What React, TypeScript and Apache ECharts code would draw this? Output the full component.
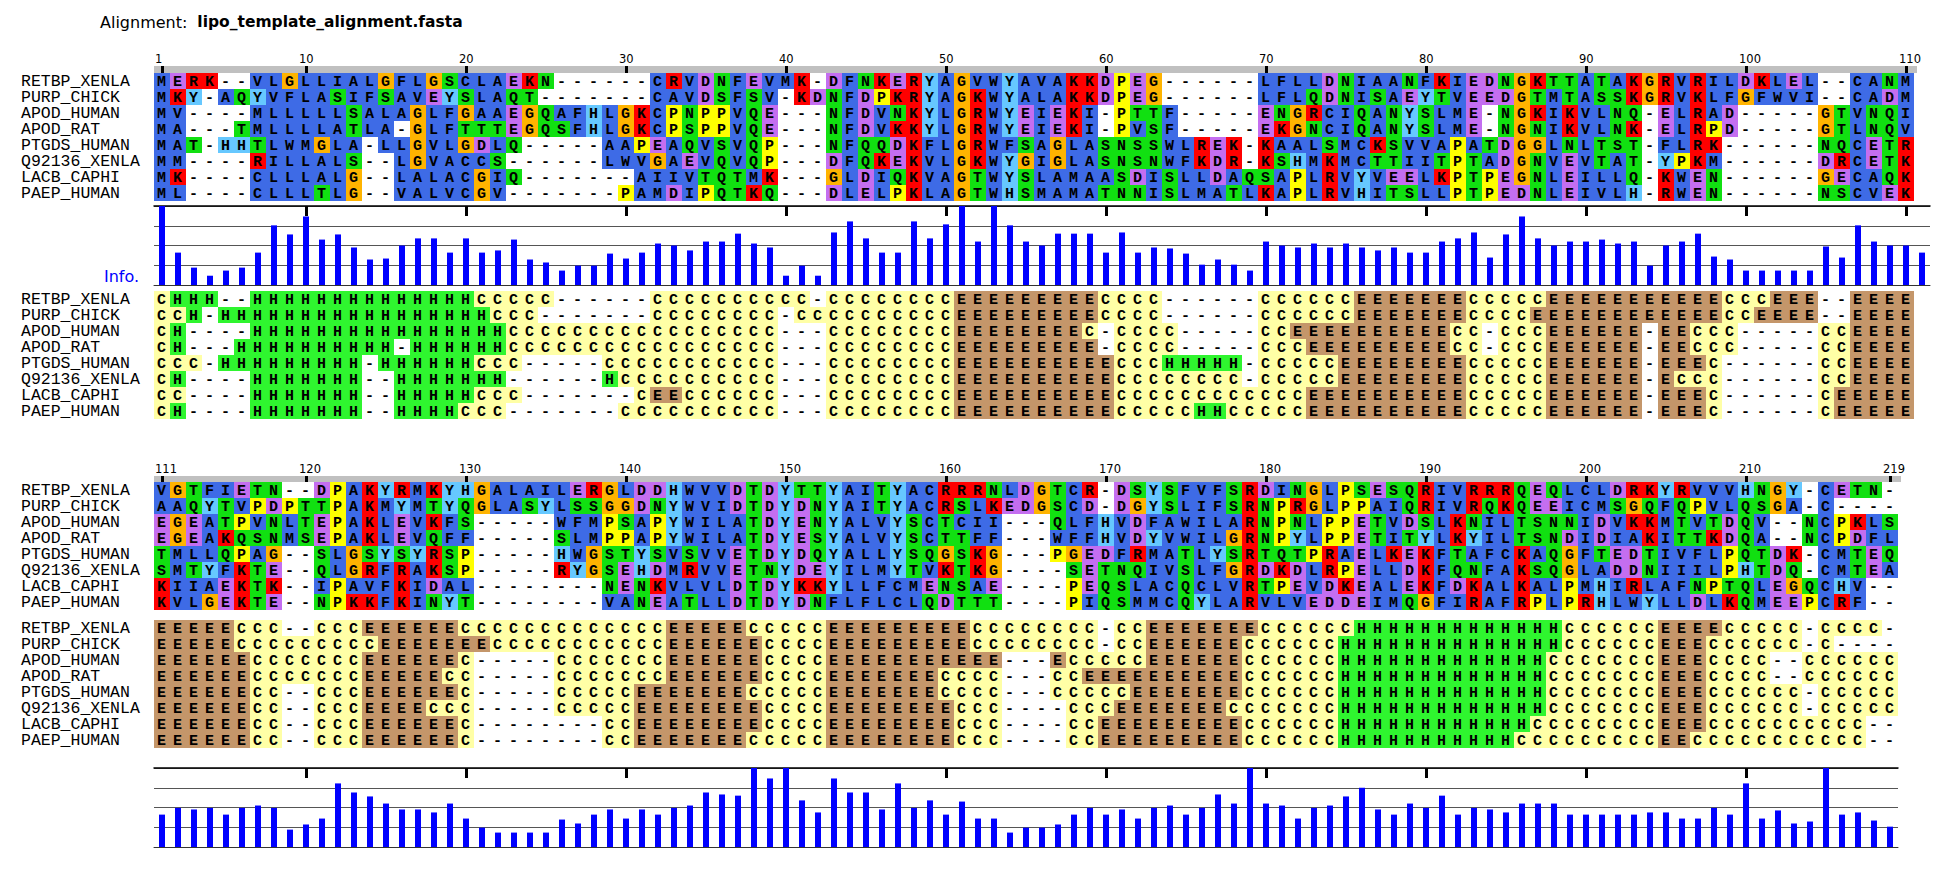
import React, { useEffect, useRef } from "react";
import * as echarts from "echarts";

// ---------------- data ----------------
const TITLE_LABEL = "Alignment:";
const FILE_NAME = "lipo_template_alignment.fasta";

const NAMES = [
  "RETBP_XENLA",
  "PURP_CHICK",
  "APOD_HUMAN",
  "APOD_RAT",
  "PTGDS_HUMAN",
  "Q92136_XENLA",
  "LACB_CAPHI",
  "PAEP_HUMAN",
];

// alignment columns 1..110
const SEQ_BLOCK1 = [
  "MERK--VLGLLIALGFLGSCLAEKN------CRVDNFEVMK-DFNKERYAGVWYAVAKKDPEG------LFLLDNIAANFKIEDNGKTTATAKGRVRILDKLEL--CANM",
  "MKY-AQYVFLASIFSAVEYSLAQT-------CAVDSFSV-KDNFDPKRYAGKWYALAKKDPEG------LFLQDNISAEYTVEEDGTMTASSKGRVKLFGFWVI--CADM",
  "MV----MLLLLLSALAGLFGAAEGQAFHLGKCPNPPVQE---NFDVNKYLGRWYEIEKI-PTTF-----ENGRCIQANYSLME-NGKIKVLNQ-ELRAD-----GTVNQI",
  "MA---TMLLLLATLA-GLFTTTEGQSFHLGKCPSPPVQE---NFDVKKYLGRWYEIEKI-PVSF-----EKGNCIQANYSLME-NGNIKVLNK-ELRPD-----GTLNQV",
  "MAT-HHTLWMGLA-LLGVLGDLQ-----AAPEAQVSVQP---NFQQDKFLGRWFSAGLASNSSWLREK-KAALSMCKSVVAPATDGGLNLTST-FLRK------NQCETR",
  "MM----RILLALS--LGVACCS------LWVGAEVQVQP---DFQKEKVLGKWYGIGLASNSNWFKDR-KSHMKMCTTIITPTADGNVEVTAT-YPKM------DRCETK",
  "MK----CLLLALG--LALACGIQ-------AIIVTQTMK---GLDIQKVAGTWYSLAMAASDISLLDAQSAPLRVYVEELKPTPEGNLEILLQ-KWEN------GECAQK",
  "ML----CLLLTLG--VALVCGV-------PAMDIPQTKQ---DLELPKLAGTWHSMAMATNNISLMATLKAPLRVHITSLLPTPEDNLEIVLH-RWEN------NSCVEK",
];

// alignment columns 111..219
const SEQ_BLOCK2 = [
  "VGTFIETN--DPAKYRMKYHGALAILERGLDDHWVVDTDYTTYAITYACRRRNLDGTCR-DSYSFVFSRDINGLPSESQRIVRRRQEQLCLDRKYRVVVHNGY-CETN-",
  "AAQYTVPDPTTPAKMYMTYQGLASYLSSGGDNYWVIDTDYDNYAITYACRSLKEDGSCD-DGYSLIFSRNPRGLPPAIQRIVRQKQEEICMSGQFQPVLQSGA-C----",
  "EGEATPVNLTEPAKLEVKFS-----WFMPSAPYWILATDYENYALVYSCTCII---QLFHVDFAWILARNPNLPPETVDSLKNILTSNNIDVKKMTVTDQV--NCPKLS",
  "EGEAKQSNMSEPAKLEVQFF-----SLMPPAPYWILATDYESYALVYSCTTFF---WFFHVDYVWILGRNPYLPPETITYLKYILTSNDIDIAKITTKDQA--NCPDFL",
  "TMLLQPAG--SLGSYSYRSP-----HWGSTYSVSVVETDYDQYALLYSQGSKG---PGEDFRMATLYSRTQTPRAELKEKFTAFCKAQGFTEDTIVFLPQTDK-CMTEQ",
  "SMTYFKTE--QLGRFRAKSP-----RYGSEHDMRVVETNYDEYILMYTVKTKG----SETNQIVSLFGRDKDLRPELLDKFQNFAKSQGLADDNIIILPHTDQ-CMTEA",
  "KIIAEKTK--IPAVFKIDAL--------NENKVLVLDTDYKKYLLFCMENSAE----PEQSLACQCLVRTPEVDKEALEKFDKALKALPMHIRLAFNPTQLEGQCHV--",
  "KVLGEKTE--NPKKFKINYT--------VANEATLLDTDYDNFLFLCLQDTTT----PIQSMMCQYLARVLVEDDEIMQGFIRAFRPLPRHLWYLLDLKQMEEPCRF--",
];

// secondary structure, run-length coded (state + run length)
const SS_BLOCK1 = [
  "C1 H3 -2 H14 C5 -6 C10 -1 C8 E9 C4 -6 C6 E7 C5 E11 C3 E3 -2 E4",
  "C2 H1 -1 H17 C3 -7 C8 -1 C10 E9 C4 -6 C6 E7 C4 E12 C2 E4 -2 E4",
  "C1 H1 -4 H16 C17 -3 C8 E8 C1 -1 C4 -5 C2 E10 C2 -1 C3 E6 -1 E2 C3 -5 C2 E4",
  "C1 H1 -3 H10 -1 H6 C17 -3 C8 E9 -1 C4 -5 C3 E9 C2 -1 C3 E6 -1 E2 C3 -5 C2 E4",
  "C3 -1 H9 -1 H6 C3 -5 C11 -3 C8 E10 C3 H5 -1 C5 E8 C5 E6 -1 E3 C1 -6 C2 E4",
  "C1 H1 -4 H7 -2 H7 -6 H1 C10 -3 C8 E10 C8 -1 C5 E8 C5 E6 -1 E1 C3 -6 C2 E4",
  "C2 -4 H7 -2 H5 C3 -7 C1 E2 C6 -3 C8 E10 C12 E10 C5 E6 -1 E3 C1 -6 C1 E5",
  "C1 H1 -4 H7 -2 H4 C3 -7 C10 -3 C8 E10 C5 H2 C5 E10 C5 E6 -1 E3 C1 -6 C1 E5",
];

const SS_BLOCK2 = [
  "E5 C3 -2 C3 E6 C13 E5 C5 E9 C8 -1 C2 E7 C6 H13 C6 E4 C5 -1 C4 -1",
  "E5 C9 E7 C11 E6 C4 E9 C8 -1 C2 E6 C6 H14 C6 E3 C6 -1 C1 -4",
  "E6 C7 E6 C1 -5 C7 E6 C4 E11 -3 E1 C5 E6 C6 H13 C7 E3 C4 -2 C6",
  "E6 C7 E5 C2 -5 C7 E6 C4 E7 C4 -3 C2 E10 C6 H13 C7 E3 C4 -2 C6",
  "E6 C2 -2 C3 E6 C1 -5 C5 E7 C5 E7 C4 -3 C5 E7 C6 H13 C7 E3 C6 -1 C5",
  "E6 C2 -2 C3 E4 C3 -5 C5 E8 C4 E8 C3 -4 C3 E7 C7 H13 C7 E3 C6 -1 C5",
  "E6 C2 -2 C3 E6 C1 -8 C2 E8 C4 E8 C3 -4 C2 E9 C6 H12 C8 E3 C10 -2",
  "E6 C2 -2 C3 E6 C1 -8 C2 E7 C5 E8 C3 -4 C2 E9 C6 H11 C9 E2 C11 -2",
];

// information content per column (bits), columns 1..219
const INFO_BITS = [
  4.0, 1.64, 0.88, 0.47, 0.73, 0.88, 1.64, 3.02, 2.56, 3.47,
  2.3, 2.56, 1.9, 1.29, 1.34, 2.0, 2.36, 2.36, 1.64, 2.36,
  1.64, 1.75, 2.3, 1.29, 1.14, 0.73, 0.98, 0.98, 1.59, 1.34,
  1.64, 2.1, 2.0, 1.75, 2.2, 2.2, 2.6, 2.1, 1.9, 0.47,
  0.98, 0.47, 2.66, 3.22, 2.36, 1.64, 1.64, 3.22, 2.36, 3.07,
  4.0, 2.2, 4.0, 3.02, 2.2, 2.0, 2.6, 2.6, 2.6, 1.64,
  2.66, 1.64, 1.9, 1.85, 1.59, 1.03, 1.29, 1.03, 0.73, 2.2,
  2.0, 1.9, 2.1, 1.9, 2.1, 1.9, 1.75, 1.9, 1.64, 1.64,
  2.2, 2.36, 2.66, 1.39, 2.56, 3.47, 2.36, 2.0, 2.2, 2.2,
  2.3, 2.1, 2.2, 0.98, 2.0, 2.2, 2.6, 1.44, 1.29, 0.73,
  0.73, 0.73, 0.73, 0.73, 1.95, 1.39, 3.02, 2.2, 2.0, 2.0,
  1.64, 1.98, 1.9, 1.98, 1.64, 1.98, 2.1, 1.98, 0.88, 1.14,
  1.44, 3.22, 2.76, 2.56, 2.2, 1.9, 1.9, 1.75, 2.2, 1.44,
  0.98, 0.73, 0.73, 0.73, 0.73, 1.39, 1.19, 1.64, 1.9, 1.44,
  1.9, 1.64, 1.98, 2.1, 2.76, 2.66, 2.6, 4.0, 3.47, 4.0,
  2.36, 1.75, 3.47, 2.76, 2.76, 1.9, 3.22, 1.98, 2.36, 1.64,
  2.3, 1.44, 1.44, 0.73, 0.98, 0.98, 1.14, 1.64, 1.98, 1.64,
  1.9, 1.44, 1.98, 2.1, 1.64, 1.98, 2.66, 2.2, 4.0, 2.2,
  2.1, 1.44, 1.98, 2.1, 2.56, 3.0, 1.9, 1.64, 2.2, 1.98,
  2.6, 1.64, 1.98, 1.9, 1.75, 2.2, 2.2, 2.2, 1.64, 1.64,
  1.64, 1.64, 1.64, 1.75, 1.75, 1.44, 1.44, 1.98, 1.64, 3.22,
  1.44, 1.85, 1.19, 1.29, 4.0, 1.64, 1.75, 1.34, 1.03,
];

const RULER_TICKS_1 = [1, 10, 20, 30, 40, 50, 60, 70, 80, 90, 100, 110];
const RULER_TICKS_2 = [111, 120, 130, 140, 150, 160, 170, 180, 190, 200, 210, 219];
const INFO_MAX = 4;

// ---------------- styling ----------------
const RESIDUE_GROUP: Record<string, string> = {
  A: "hyd", I: "hyd", L: "hyd", M: "hyd", F: "hyd", W: "hyd", V: "hyd", C: "hyd",
  K: "pos", R: "pos",
  E: "neg", D: "neg",
  N: "pol", Q: "pol", S: "pol", T: "pol",
  G: "gly", P: "pro",
  H: "aro", Y: "aro",
};
const GROUP_COLOR: Record<string, string> = {
  hyd: "#3e6be6",
  pos: "#ff0000",
  neg: "#c46ef0",
  pol: "#11e011",
  gly: "#ffb400",
  pro: "#ffff00",
  aro: "#66c8ff",
};
const SS_COLOR: Record<string, string> = { C: "#ffffa6", H: "#2ff52f", E: "#c4966a" };

const CELL_FONT = 'bold 15px "Liberation Mono", "DejaVu Sans Mono", monospace';
const NAME_FONT_FAMILY = '"Liberation Mono", "DejaVu Sans Mono", monospace';
const SANS = '"DejaVu Sans", sans-serif';

const LEFT = 154;
const COL_W = 16;
const ROW_H = 16;

function decodeRuns(s: string): string {
  return s
    .split(" ")
    .map((t) => t[0].repeat(parseInt(t.slice(1), 10)))
    .join("");
}

function range(a: number, b: number): number[] {
  const r: number[] = [];
  for (let i = a; i <= b; i++) r.push(i);
  return r;
}

function buildOption() {
  const grid: any[] = [];
  const xAxis: any[] = [];
  const yAxis: any[] = [];
  const series: any[] = [];

  const addCellGrid = (
    top: number,
    rows: string[],
    startCol: number,
    colorOf: (ch: string) => string
  ) => {
    const n = rows[0].length;
    const gi = grid.length;
    grid.push({ left: LEFT, top, width: n * COL_W, height: rows.length * ROW_H });
    const xi = xAxis.length;
    xAxis.push({
      type: "value",
      gridIndex: gi,
      min: startCol - 0.5,
      max: startCol + n - 0.5,
      show: false,
    });
    const yi = yAxis.length;
    yAxis.push({
      type: "category",
      gridIndex: gi,
      data: NAMES,
      inverse: true,
      axisLine: { show: false },
      axisTick: { show: false },
      axisLabel: {
        show: true,
        interval: 0,
        align: "left",
        margin: LEFT - 21,
        fontFamily: NAME_FONT_FAMILY,
        fontWeight: "normal",
        fontSize: 16.5,
        color: "#000",
      },
    });
    const data: number[][] = [];
    const chars: string[] = [];
    rows.forEach((row, r) => {
      for (let i = 0; i < row.length; i++) {
        data.push([startCol + i, r]);
        chars.push(row[i]);
      }
    });
    series.push({
      type: "custom",
      xAxisIndex: xi,
      yAxisIndex: yi,
      silent: true,
      data,
      renderItem: (params: any, api: any) => {
        const ch = chars[params.dataIndex];
        const p = api.coord([api.value(0), api.value(1)]);
        const sz = api.size([1, 1]);
        const fill = ch === "-" ? "#ffffff" : colorOf(ch);
        return {
          type: "group",
          children: [
            {
              type: "rect",
              shape: { x: p[0] - sz[0] / 2, y: p[1] - sz[1] / 2, width: sz[0], height: sz[1] },
              style: { fill },
            },
            {
              type: "text",
              style: {
                text: ch,
                x: p[0] - 0.5,
                y: p[1] + 1,
                font: CELL_FONT,
                fill: "#000",
                align: "center",
                verticalAlign: "middle",
                textAlign: "center",
                textVerticalAlign: "middle",
              },
            },
          ],
        };
      },
    });
  };

  const addRuler = (top: number, height: number, startCol: number, n: number, ticks: number[]) => {
    const gi = grid.length;
    grid.push({ left: LEFT, top, width: n * COL_W, height });
    const xi = xAxis.length;
    xAxis.push({ type: "value", gridIndex: gi, min: startCol - 0.5, max: startCol + n - 0.5, show: false });
    const yi = yAxis.length;
    yAxis.push({ type: "value", gridIndex: gi, min: 0, max: 1, show: false });
    series.push({
      type: "custom",
      xAxisIndex: xi,
      yAxisIndex: yi,
      silent: true,
      data: [[startCol - 0.5, startCol + n - 0.5]],
      renderItem: (params: any, api: any) => {
        const a = api.coord([api.value(0), 1]);
        const b = api.coord([api.value(1), 0]);
        return {
          type: "rect",
          shape: { x: a[0], y: a[1], width: b[0] - a[0] + 3, height: b[1] - a[1] },
          style: { fill: "#c0c0c0" },
        };
      },
    });
    series.push({
      type: "custom",
      xAxisIndex: xi,
      yAxisIndex: yi,
      silent: true,
      data: ticks.map((t) => [t, 0]),
      renderItem: (params: any, api: any) => {
        const v = api.value(0);
        const top = api.coord([v, 1]);
        const bot = api.coord([v, 0]);
        const cellLeft = api.coord([v - 0.5, 1]);
        return {
          type: "group",
          children: [
            {
              type: "rect",
              shape: { x: top[0] - 1, y: top[1], width: 3, height: bot[1] - top[1] },
              style: { fill: "#000" },
            },
            {
              type: "text",
              style: {
                text: String(v),
                x: cellLeft[0] + 1,
                y: top[1] - 1,
                font: `11.5px ${SANS}`,
                fill: "#000",
                align: "left",
                verticalAlign: "bottom",
                textAlign: "left",
                textVerticalAlign: "bottom",
              },
            },
          ],
        };
      },
    });
  };

  const addInfo = (top: number, startCol: number, n: number) => {
    const gi = grid.length;
    grid.push({ left: LEFT, top, width: n * COL_W, height: 79 });
    const cats = range(startCol, startCol + n - 1).map(String);
    const xb = xAxis.length;
    xAxis.push({
      type: "category",
      gridIndex: gi,
      data: cats,
      position: "bottom",
      axisLine: { show: true, lineStyle: { color: "#333", width: 1 } },
      axisTick: { show: false },
      axisLabel: { show: false },
      splitLine: { show: false },
    });
    xAxis.push({
      type: "category",
      gridIndex: gi,
      data: cats,
      position: "top",
      axisLine: { show: true, lineStyle: { color: "#000", width: 1.5 } },
      axisTick: {
        show: true,
        inside: true,
        length: 10,
        alignWithLabel: true,
        interval: (idx: number, val: string) => Number(val) % 10 === 0,
        lineStyle: { color: "#000", width: 3 },
      },
      axisLabel: { show: false },
      splitLine: { show: false },
    });
    const yi = yAxis.length;
    yAxis.push({
      type: "value",
      gridIndex: gi,
      min: 0,
      max: INFO_MAX,
      interval: 1,
      axisLine: { show: false },
      axisTick: { show: false },
      axisLabel: { show: false },
      splitLine: { show: true, lineStyle: { color: "#555", width: 1 } },
    });
    series.push({
      type: "bar",
      xAxisIndex: xb,
      yAxisIndex: yi,
      barWidth: 6,
      silent: true,
      itemStyle: { color: "#0000ff" },
      data: INFO_BITS.slice(startCol - 1, startCol - 1 + n).map((v) => Math.min(v, INFO_MAX)),
    });
  };

  const resColor = (ch: string) => GROUP_COLOR[RESIDUE_GROUP[ch]] || "#ffffff";
  const ssColor = (ch: string) => SS_COLOR[ch] || "#ffffff";

  const ss1 = SS_BLOCK1.map(decodeRuns);
  const ss2 = SS_BLOCK2.map(decodeRuns);
  const n1 = SEQ_BLOCK1[0].length;
  const n2 = SEQ_BLOCK2[0].length;

  // block 1
  addRuler(66, 7, 1, n1, RULER_TICKS_1);
  addCellGrid(73, SEQ_BLOCK1, 1, resColor);
  addInfo(206, 1, n1 + 1);
  addCellGrid(291, ss1, 1, ssColor);
  // block 2
  addRuler(476, 6, n1 + 1, n2, RULER_TICKS_2);
  addCellGrid(482, SEQ_BLOCK2, n1 + 1, resColor);
  addCellGrid(620, ss2, n1 + 1, ssColor);
  addInfo(768, n1 + 1, n2);

  return {
    animation: false,
    backgroundColor: "#ffffff",
    title: {
      left: 95,
      top: 8,
      text: `{a|${TITLE_LABEL}}  {b|${FILE_NAME}}`,
      textStyle: {
        fontWeight: "normal",
        rich: {
          a: { fontFamily: SANS, fontSize: 16, fontWeight: "normal", color: "#000" },
          b: { fontFamily: SANS, fontSize: 15.5, fontWeight: "bold", color: "#000" },
        },
      },
    },
    graphic: [
      {
        type: "text",
        right: 1934 - 139,
        top: 268,
        style: { text: "Info.", font: `16px ${SANS}`, fill: "#0000ff" },
      },
    ],
    grid,
    xAxis,
    yAxis,
    series,
  };
}

export default function App() {
  const ref = useRef<HTMLDivElement>(null);
  useEffect(() => {
    if (!ref.current) return;
    const chart = echarts.init(ref.current, undefined, { renderer: "svg" });
    chart.setOption(buildOption() as any);
    return () => chart.dispose();
  }, []);
  return (
    <div
      ref={ref}
      style={{ position: "absolute", left: 0, top: 0, width: 1934, height: 878, background: "#fff" }}
    />
  );
}
